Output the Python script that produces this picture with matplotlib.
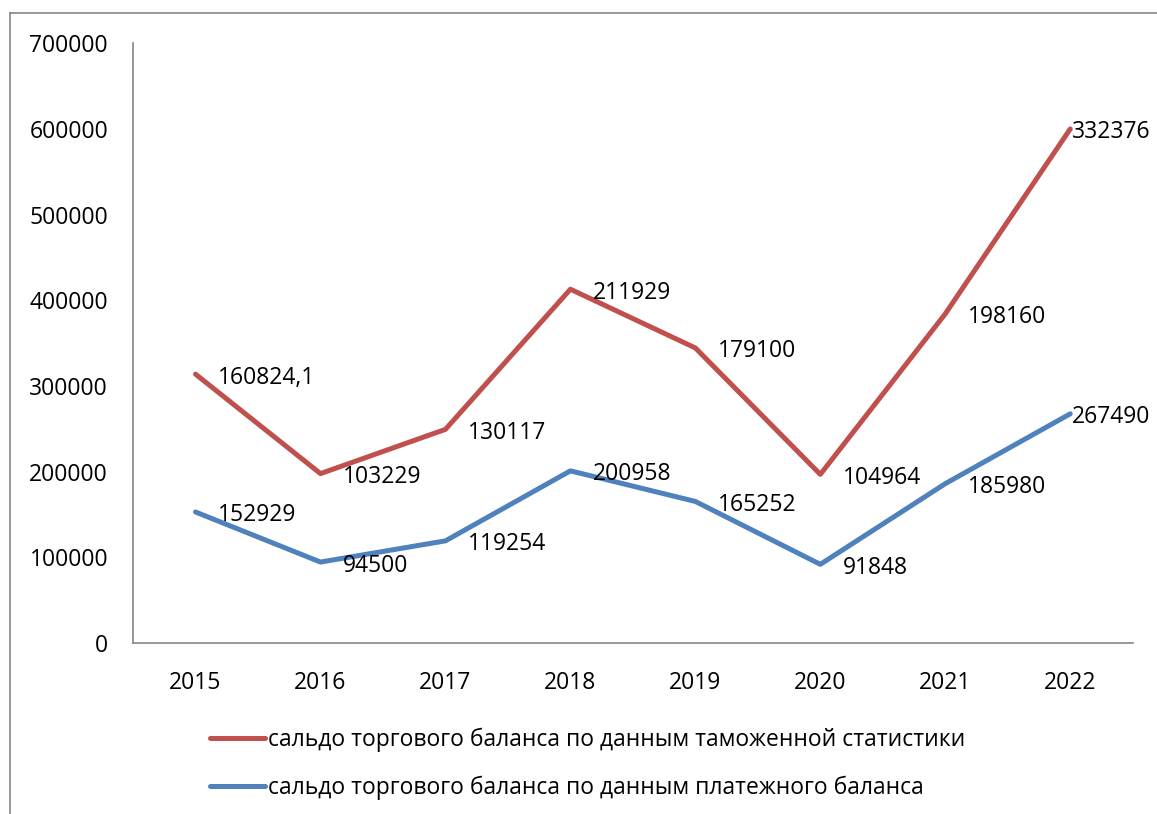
import numpy as np
import matplotlib
matplotlib.use("Agg")
import matplotlib.pyplot as plt
from matplotlib.lines import Line2D

plt.rcParams["font.family"] = ["Open Sans", "DejaVu Sans"]

years = ["2015", "2016", "2017", "2018", "2019", "2020", "2021", "2022"]
# saldo by payment balance (bottom series)
payments = [152929, 94500, 119254, 200958, 165252, 91848, 185980, 267490]
# saldo by customs statistics (stacked on top)
customs = [160824.1, 103229, 130117, 211929, 179100, 104964, 198160, 332376]

names = [
    "сальдо торгового баланса по данным таможенной статистики",
    "сальдо торгового баланса по данным платежного баланса",
]

RED = "#C0504D"
BLUE = "#4F81BD"
GREY = "#868686"
FS = 16.5


def fmt(v):
    if float(v).is_integer():
        return str(int(v))
    return str(v).replace(".", ",")


fig = plt.figure(figsize=(11.57, 8.14), dpi=100)
ax = fig.add_axes([0.115, 0.210, 0.864, 0.737])

x = np.arange(len(years))
stacked = np.array(payments) + np.array(customs)

l_red, = ax.plot(x, stacked, color=RED, lw=3.6, solid_capstyle="round")
l_blue, = ax.plot(x, payments, color=BLUE, lw=3.6, solid_capstyle="round")

# data labels to the right of points; the last one squeezed in to fit
for ys, vals in [(stacked, customs), (payments, payments)]:
    for i, (xi, yi, v) in enumerate(zip(x, ys, vals)):
        dx = 1.5 if i == len(x) - 1 else 16
        ax.annotate(fmt(v), (xi, yi), xytext=(dx, -2.5),
                    textcoords="offset points",
                    ha="left", va="center", fontsize=FS)

ax.set_xlim(-0.5, 7.5)
ax.set_ylim(0, 700000)
ax.set_yticks(np.arange(0, 700001, 100000))
ax.set_xticks(x)
ax.set_xticklabels(years)
ax.tick_params(length=0, labelsize=FS)
ax.tick_params(axis="y", pad=18)
ax.tick_params(axis="x", pad=20)
for s in ["top", "right"]:
    ax.spines[s].set_visible(False)
for s in ["left", "bottom"]:
    ax.spines[s].set_color(GREY)
    ax.spines[s].set_linewidth(1.2)

fig.legend([l_red, l_blue], names, loc="upper left",
           bbox_to_anchor=(0.1815, 0.1055), frameon=False, fontsize=FS,
           handlelength=2.4, handletextpad=0.13, labelspacing=1.0,
           borderaxespad=0, borderpad=0)

# chart frame (cropped: only top and left edges visible)
fig.add_artist(Line2D([0.009, 1.0], [0.984, 0.984], color=GREY, lw=1.2,
                      transform=fig.transFigure))
fig.add_artist(Line2D([0.009, 0.009], [0.0, 0.984], color=GREY, lw=1.2,
                      transform=fig.transFigure))

fig.savefig("out.png", dpi=100)
